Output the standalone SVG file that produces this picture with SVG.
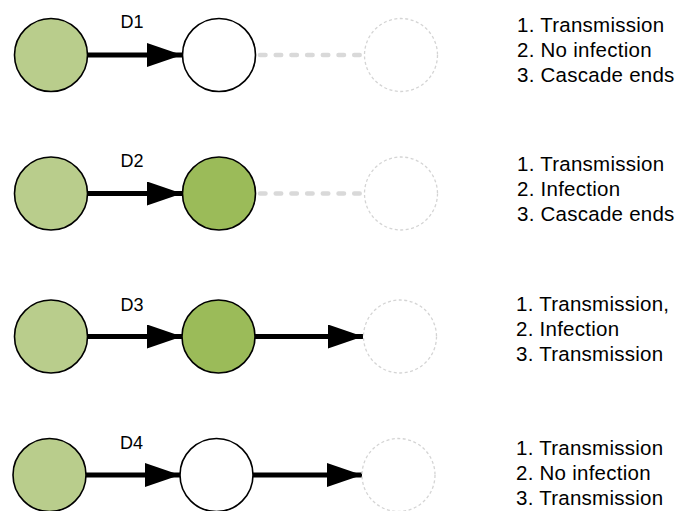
<svg xmlns="http://www.w3.org/2000/svg" width="689" height="511" viewBox="0 0 689 511">
<defs>
<style>
.src{fill:#b9cd8c;stroke:#000;stroke-width:1.6}
.inf{fill:#9bbb59;stroke:#000;stroke-width:1.6}
.no{fill:#fff;stroke:#000;stroke-width:1.6}
.ghost{fill:none;stroke:#d4d4d4;stroke-width:1.3;stroke-dasharray:3 2.5}
.edge{stroke:#000;stroke-width:5;fill:none;marker-end:url(#ah)}
.dash{stroke:#d9d9d9;stroke-width:4.5;fill:none;stroke-linecap:round;stroke-dasharray:5.5 10.2}
.lbl{font-family:"Liberation Sans",Arial,sans-serif;font-size:18px;fill:#000}
.txt{font-family:"Liberation Sans",Arial,sans-serif;font-size:20.5px;letter-spacing:0.25px;fill:#000}
</style>
<marker id="ah" markerUnits="userSpaceOnUse" markerWidth="36" markerHeight="26" refX="35" refY="12" orient="auto">
<path d="M0,0 L35,12 L0,24 Z" fill="#000"/>
</marker>
</defs>
<g id="connectors">
<line class="edge" x1="87" y1="55" x2="182" y2="55"/>
<line class="dash" x1="260" y1="55" x2="362" y2="55"/>
<line class="edge" x1="87" y1="193.5" x2="182" y2="193.5"/>
<line class="dash" x1="260" y1="193.5" x2="362" y2="193.5"/>
<line class="edge" x1="87" y1="336.5" x2="182" y2="336.5"/>
<line class="edge" x1="255" y1="336.5" x2="363" y2="336.5"/>
<line class="edge" x1="85" y1="475" x2="180" y2="475"/>
<line class="edge" x1="253" y1="475" x2="362" y2="475"/>
</g>
<g id="row1">
<circle id="r1a" class="src" cx="51" cy="55" r="36.5"/>
<circle id="r1b" class="no" cx="219" cy="55" r="36.5"/>
<circle id="r1c" class="ghost" cx="401" cy="55" r="36.5"/>
<text class="lbl" x="120.5" y="28">D1</text>
<text class="txt" x="517" y="32">1. Transmission</text>
<text class="txt" x="517" y="57">2. No infection</text>
<text class="txt" x="517" y="82">3. Cascade ends</text>
</g>
<g id="row2">
<circle id="r2a" class="src" cx="51" cy="193.5" r="36.5"/>
<circle id="r2b" class="inf" cx="219" cy="193.5" r="36.5"/>
<circle id="r2c" class="ghost" cx="401" cy="193.5" r="36.5"/>
<text class="lbl" x="120.5" y="167">D2</text>
<text class="txt" x="517" y="170.5">1. Transmission</text>
<text class="txt" x="517" y="195.5">2. Infection</text>
<text class="txt" x="517" y="220.5">3. Cascade ends</text>
</g>
<g id="row3">
<circle id="r3a" class="src" cx="51" cy="336.5" r="36.5"/>
<circle id="r3b" class="inf" cx="218.5" cy="336.5" r="36.5"/>
<circle id="r3c" class="ghost" cx="400" cy="336.5" r="36.5"/>
<text class="lbl" x="120.5" y="311">D3</text>
<text class="txt" x="516" y="310.5">1. Transmission,</text>
<text class="txt" x="516" y="335.5">2. Infection</text>
<text class="txt" x="516" y="360.5">3. Transmission</text>
</g>
<g id="row4">
<circle id="r4a" class="src" cx="49.5" cy="475" r="36.5"/>
<circle id="r4b" class="no" cx="216.5" cy="475" r="36.5"/>
<circle id="r4c" class="ghost" cx="398.5" cy="475" r="36.5"/>
<text class="lbl" x="120" y="449">D4</text>
<text class="txt" x="516" y="454.5">1. Transmission</text>
<text class="txt" x="516" y="479.5">2. No infection</text>
<text class="txt" x="516" y="504.5">3. Transmission</text>
</g>
</svg>
